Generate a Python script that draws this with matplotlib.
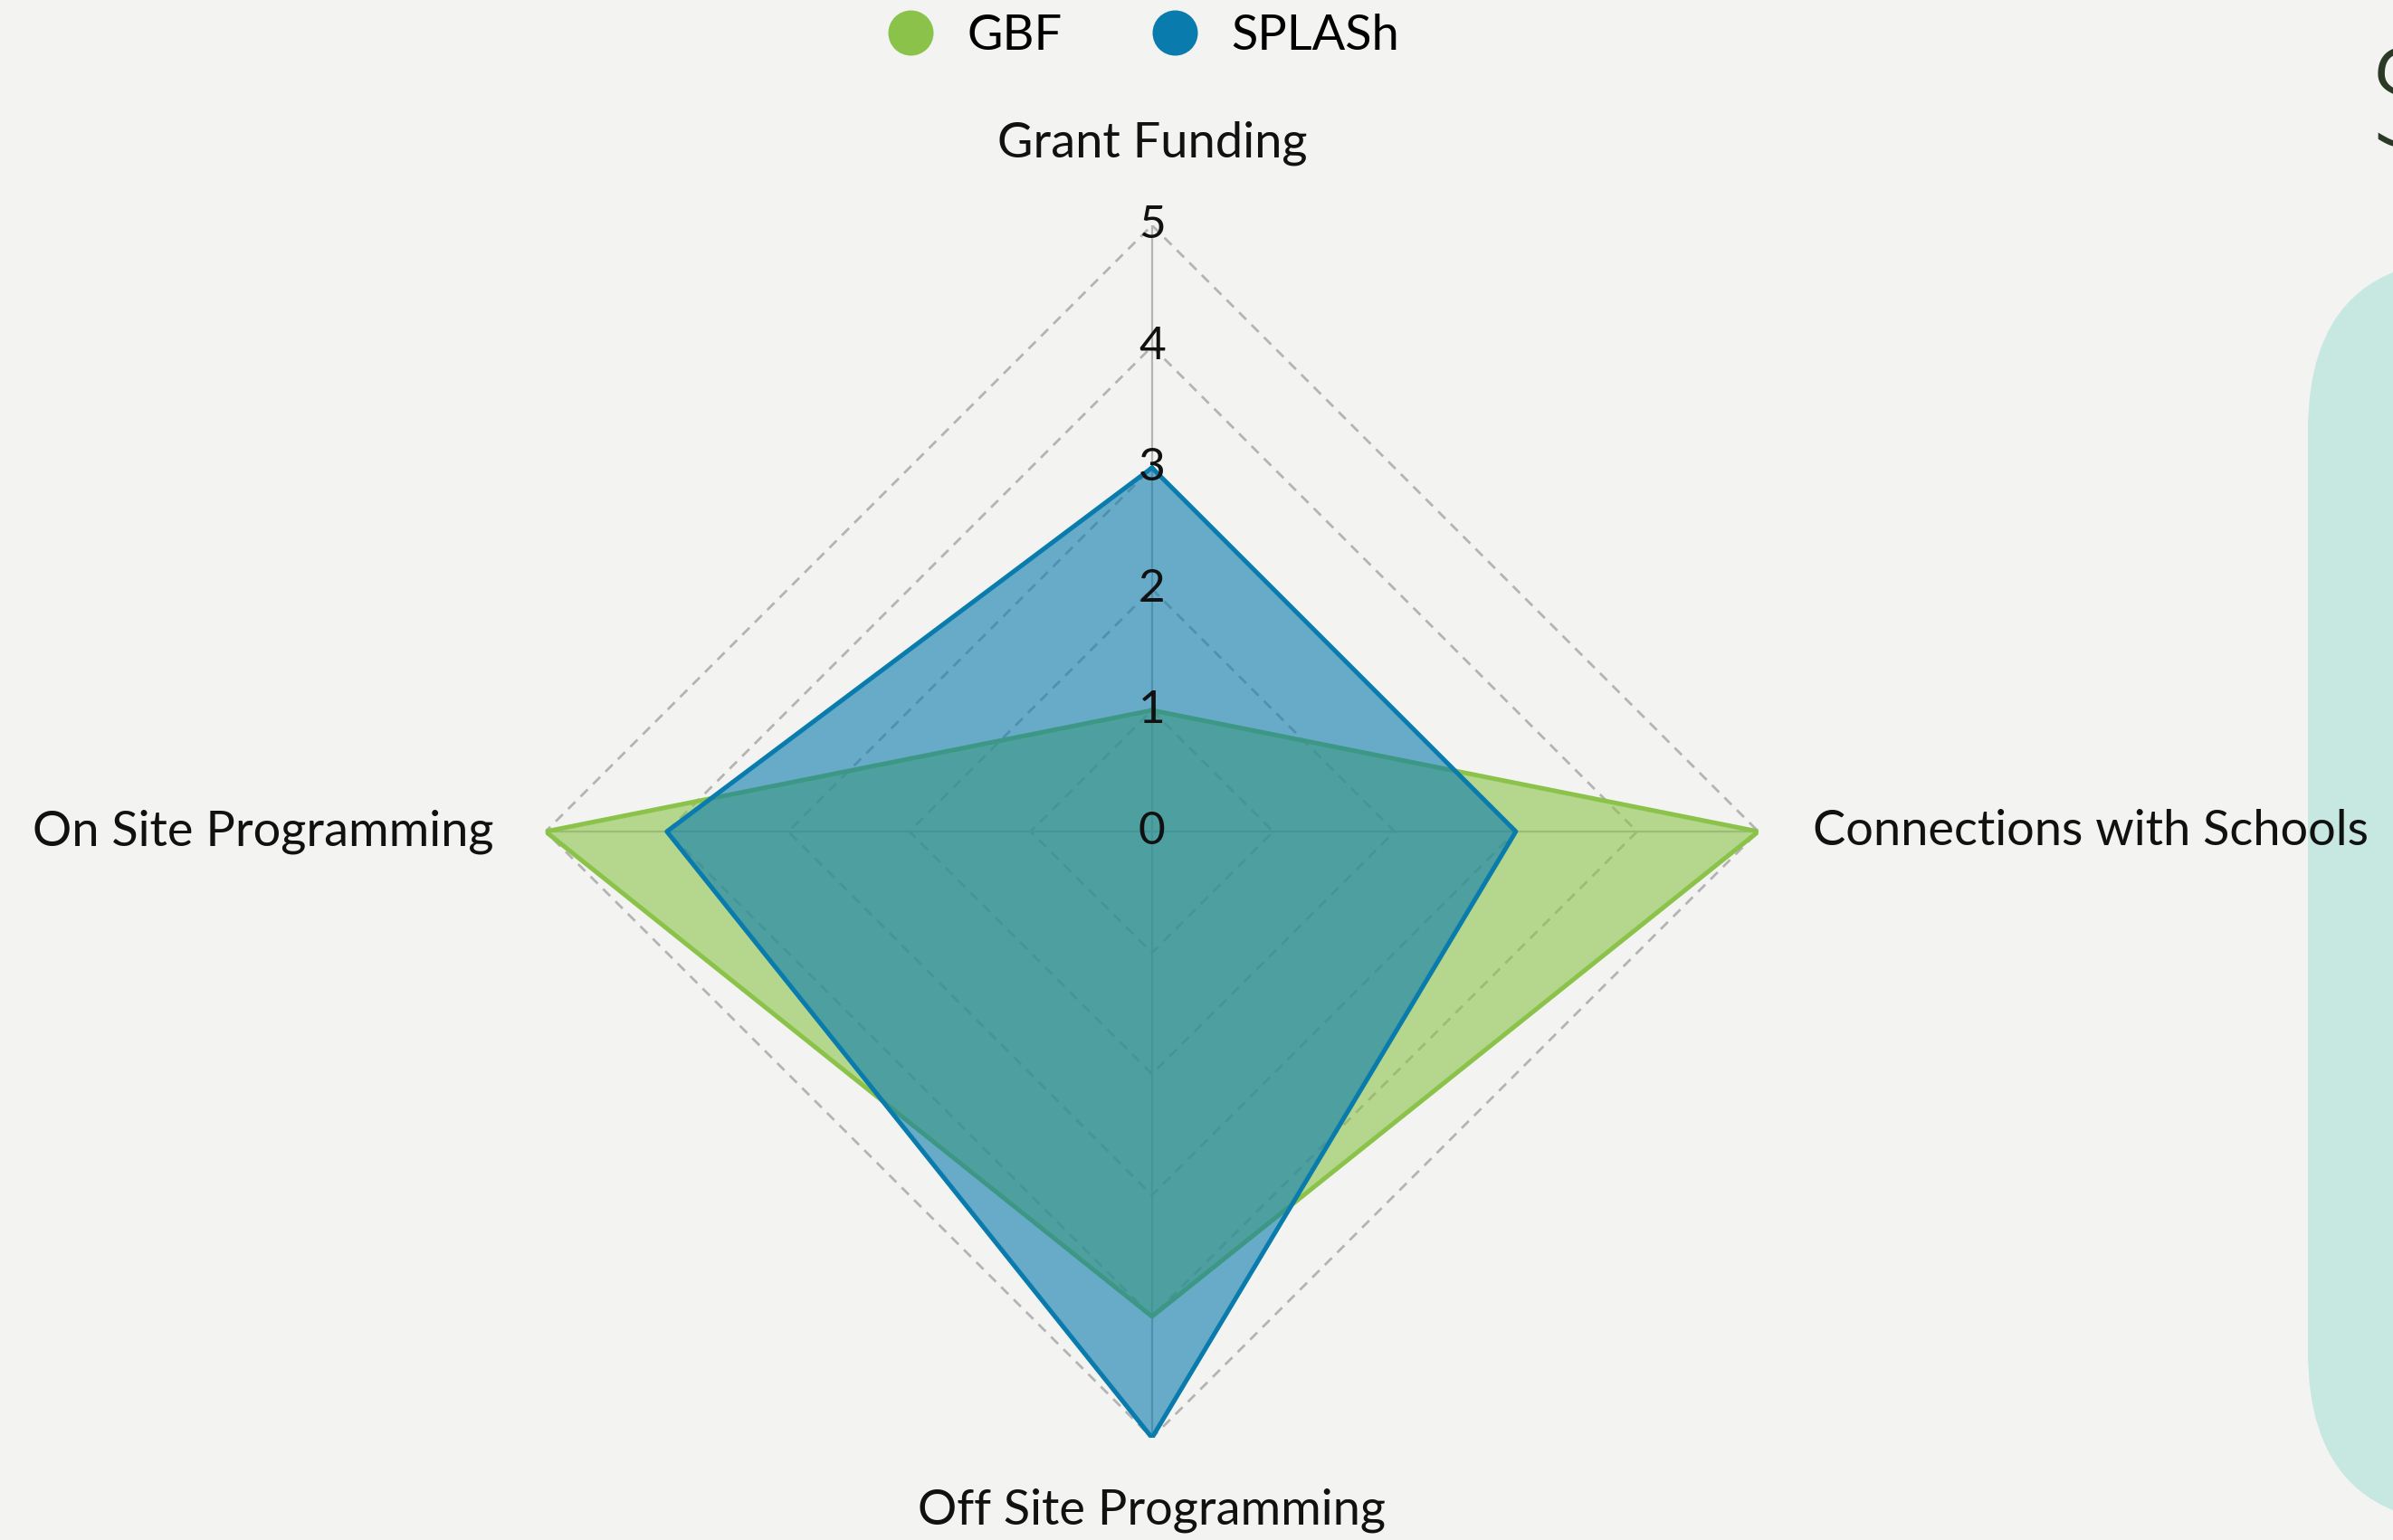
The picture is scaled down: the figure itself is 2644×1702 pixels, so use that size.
import numpy as np
import matplotlib
matplotlib.use("Agg")
from matplotlib import pyplot as plt
from matplotlib.lines import Line2D
from matplotlib.patches import FancyBboxPatch

# categories clockwise from the top
categories = ["Grant Funding", "Connections with Schools", "Off Site Programming", "On Site Programming"]
gbf = [1, 5, 4, 5]
splash = [3, 3, 5, 4]
levels = [0, 1, 2, 3, 4, 5]

plt.rcParams['font.family'] = ['Lato', 'DejaVu Sans']
bg = "#f3f3f1"
green = "#8bc34a"
blue = "#0a7bad"

fig = plt.figure(figsize=(13.22, 8.51), dpi=200, facecolor=bg)

# decorative blob on the right edge (kept behind the chart)
blob = FancyBboxPatch((2550 / 2644, 1 - 1685 / 1702), 0.2, (1685 - 285) / 1702,
                      boxstyle="round,pad=0,rounding_size=0.07", transform=fig.transFigure,
                      facecolor="#c6e8e0", edgecolor="none", zorder=-5, mutation_aspect=1.6)
fig.patches.append(blob)
fig.text(0.9885, 0.972, "S", fontsize=54, color="#2b3a27", ha="left", va="top",
         family=["DejaVu Sans"], fontweight="light", zorder=-4)

ax = fig.add_axes([0.228, 0.0664, 0.5068, 0.7873], projection="polar")
ax.set_zorder(2)
ax.set_facecolor("none")
ax.set_theta_offset(np.pi / 2)
ax.set_theta_direction(-1)
ax.set_ylim(0, 5)
ax.grid(False)
ax.spines["polar"].set_visible(False)
ax.set_xticks([])
ax.set_yticks([])

angles = np.linspace(0, 2 * np.pi, len(categories), endpoint=False)
closed = np.concatenate([angles, angles[:1]])

# polygon grid
for lv in levels[1:]:
    ax.plot(closed, [lv] * len(closed), color="#b4b4b4", lw=1.0, ls=(0, (4, 3)), zorder=1)
for a in angles:
    ax.plot([a, a], [0, 5], color="#b4b4b4", lw=0.8, zorder=1)

g = np.array(gbf + gbf[:1])
s = np.array(splash + splash[:1])
ax.fill(closed, g, color=green, alpha=0.6, lw=0, zorder=2)
ax.plot(closed, g, color=green, lw=1.8, zorder=2)
ax.fill(closed, s, color=blue, alpha=0.6, lw=0, zorder=3)
ax.plot(closed, s, color=blue, lw=1.8, zorder=3)

for lv in levels:
    ax.text(0, lv, str(lv), ha="center", va="center", fontsize=18.5, color="#111111", zorder=5)

fs = 19.5
ax.text(angles[0], 5.68, categories[0], ha="center", va="center", fontsize=fs, color="#111111")
ax.text(angles[1], 5.45, categories[1], ha="left", va="center", fontsize=fs, color="#111111")
ax.text(angles[2], 5.6, categories[2], ha="center", va="center", fontsize=fs, color="#111111")
ax.text(angles[3], 5.43, categories[3], ha="right", va="center", fontsize=fs, color="#111111")

handles = [Line2D([], [], marker="o", ls="none", color=green, markersize=17, label="GBF"),
           Line2D([], [], marker="o", ls="none", color=blue, markersize=17, label="SPLASh")]
fig.legend(handles=handles, loc="center", bbox_to_anchor=(0.4725, 0.977), ncol=2,
           frameon=False, fontsize=fs, handletextpad=0.15, columnspacing=1.3)

fig.savefig("out.png", dpi=200, facecolor=bg)
